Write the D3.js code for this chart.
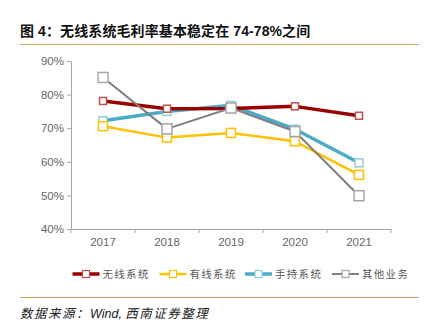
<!DOCTYPE html>
<html><head><meta charset="utf-8">
<script src="https://cdn.jsdelivr.net/npm/d3@7"></script>
<style>body{margin:0;background:#fff;}svg{display:block;}</style>
</head><body>
<svg id="c" width="426" height="332"></svg>
<script>
const years = ["2017","2018","2019","2020","2021"];
const wireless = [78.1, 75.8, 75.9, 76.5, 73.7];
const wired = [70.6, 67.2, 68.6, 66.1, 56.1];
const handheld = [72.2, 75.0, 76.8, 69.7, 59.7];
const other = [85.1, 69.8, 76.0, 69.0, 49.9];
const yTicks = [40, 50, 60, 70, 80, 90];
const seriesNames = ["无线系统", "有线系统", "手持系统", "其他业务"];

const series = [
  {name: seriesNames[0], values: wireless, color: "#990000", mstroke: "#c0504d", width: 3.5, msize: 7},
  {name: seriesNames[1], values: wired, color: "#ffc000", mstroke: "#ffc000", width: 2.5, msize: 9},
  {name: seriesNames[2], values: handheld, color: "#4bacc6", mstroke: "#92cddc", width: 3.5, msize: 8},
  {name: seriesNames[3], values: other, color: "#808080", mstroke: "#a6a6a6", width: 2, msize: 10}
];
const drawOrder = [2, 1, 0, 3];

const svg = d3.select("#c");
const font = "Arial, 'Liberation Sans', sans-serif";
const cjk = "'Noto Sans CJK SC', sans-serif";

// Title
svg.append("text").attr("x", 20).attr("y", 36)
  .attr("font-family", "Arial, 'Noto Sans CJK SC', sans-serif").attr("font-weight", "bold")
  .attr("font-size", 14).attr("fill", "#111").attr("letter-spacing", 0.1)
  .text("图 4：无线系统毛利率基本稳定在 74-78%之间");
svg.append("line").attr("x1", 20).attr("x2", 419).attr("y1", 44.5).attr("y2", 44.5)
  .attr("stroke", "#d6a15a").attr("stroke-width", 1.2);

const x = d3.scaleBand().domain(years).range([71, 391]);
const y = d3.scaleLinear().domain([40, 90]).range([229, 61]);

// Y axis
const ya = svg.append("g").attr("transform", "translate(71,0)")
  .call(d3.axisLeft(y).tickValues(yTicks).tickFormat(d => d + "%").tickSize(4).tickSizeOuter(0));
ya.select(".domain").attr("stroke", "#a6a6a6");
ya.selectAll(".tick line").attr("stroke", "#a6a6a6");
ya.selectAll(".tick text").attr("fill", "#666").attr("font-family", font).attr("font-size", 11.5).attr("x", -7);

// X axis
const xa = svg.append("g").attr("transform", "translate(0,229)")
  .call(d3.axisBottom(x).tickSize(0).tickSizeOuter(0));
xa.select(".domain").attr("stroke", "#a6a6a6");
xa.selectAll(".tick text").attr("fill", "#666").attr("font-family", font).attr("font-size", 11.5).attr("dy", "0.71em").attr("y", 9);
// band boundary ticks
const bounds = years.map(d => x(d)).concat([x(years[years.length-1]) + x.bandwidth()]);
xa.selectAll(".bt").data(bounds).enter().append("line").attr("class","bt")
  .attr("x1", d => d).attr("x2", d => d).attr("y1", 0).attr("y2", 4).attr("stroke", "#a6a6a6");

const cx = d => x(d) + x.bandwidth() / 2;
const line = d3.line().x((v, i) => cx(years[i])).y(v => y(v));

drawOrder.forEach(k => {
  const s = series[k];
  const g = svg.append("g");
  g.append("path").datum(s.values).attr("d", line).attr("fill", "none")
    .attr("stroke", s.color).attr("stroke-width", s.width).attr("stroke-linejoin", "round");
  g.selectAll("rect").data(s.values).enter().append("rect")
    .attr("x", (v, i) => cx(years[i]) - s.msize / 2).attr("y", v => y(v) - s.msize / 2)
    .attr("width", s.msize).attr("height", s.msize)
    .attr("fill", "#fff").attr("stroke", s.mstroke).attr("stroke-width", 1.5);
});

// Legend
const legX = [72.5, 159.5, 245, 332];
series.forEach((s, i) => {
  const g = svg.append("g").attr("transform", `translate(${legX[i]},274)`);
  g.append("line").attr("x1", 0).attr("x2", 27).attr("y1", 0).attr("y2", 0)
    .attr("stroke", s.color).attr("stroke-width", s.width);
  const m = 7;
  g.append("rect").attr("x", 13.5 - m/2).attr("y", -m/2).attr("width", m).attr("height", m)
    .attr("fill", "#fff").attr("stroke", s.mstroke).attr("stroke-width", 1.2);
  g.append("text").attr("x", 30).attr("y", 4).attr("font-family", cjk).attr("font-size", 10.5)
    .attr("letter-spacing", 1.3).attr("fill", "#595959").text(s.name);
});

svg.append("line").attr("x1", 20).attr("x2", 419).attr("y1", 297.5).attr("y2", 297.5)
  .attr("stroke", "#d6a15a").attr("stroke-width", 1.2);

const src = svg.append("text").attr("x", 20).attr("y", 318).attr("font-size", 12.5)
  .attr("font-style", "italic").attr("fill", "#222").attr("font-family", "Arial, 'Noto Sans CJK SC', sans-serif");
src.append("tspan").attr("letter-spacing", 1.5).text("数据来源：");
src.append("tspan").text("Wind, ");
src.append("tspan").attr("letter-spacing", 1.5).text("西南证券整理");
</script>
</body></html>
